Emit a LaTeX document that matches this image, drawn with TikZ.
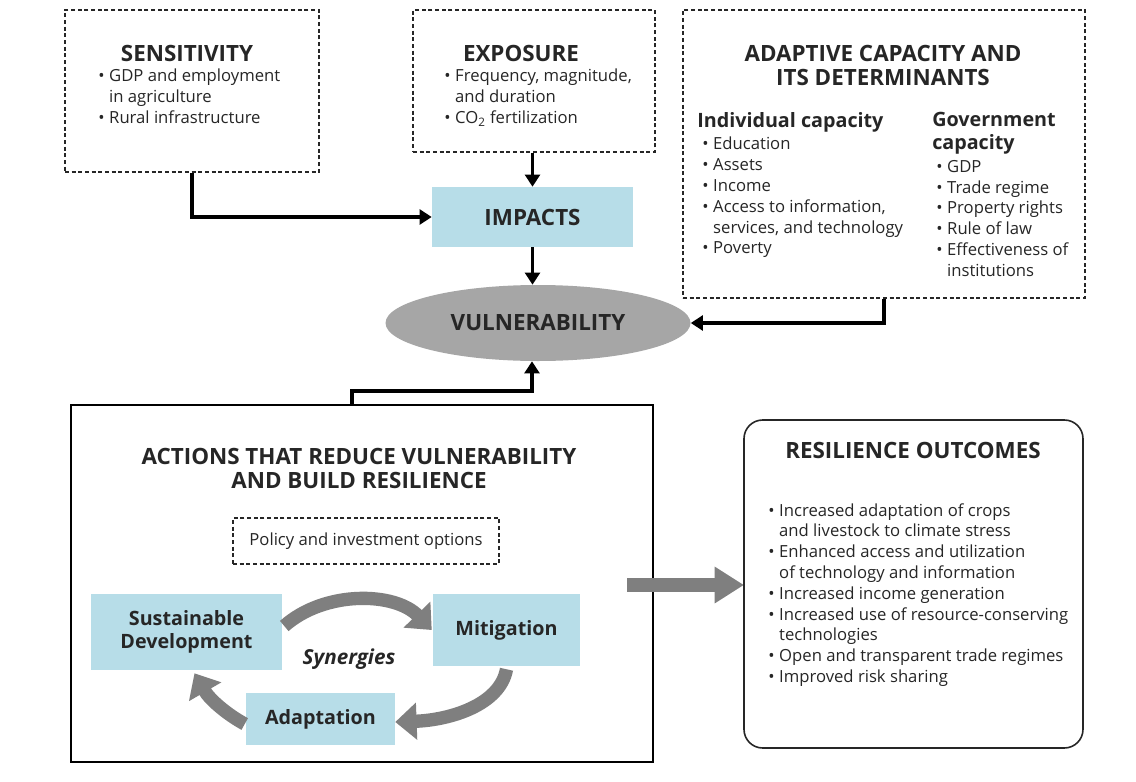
\documentclass[tikz,border=0pt]{standalone}
\usepackage{fontspec}
\setmainfont{Open Sans}
\usetikzlibrary{arrows.meta,shapes.geometric,calc,fit}
\definecolor{boxblue}{HTML}{B7DDE8}
\definecolor{ellgray}{HTML}{A6A6A6}
\definecolor{arrgray}{HTML}{7F7F7F}
\definecolor{ink}{HTML}{262626}
\newcommand{\bl}{\makebox[8.2pt][l]{\textbullet}}
\newcommand{\ind}{\hspace*{8.2pt}}
\begin{document}
\begin{tikzpicture}[x=0.75pt,y=-0.75pt,
  dbox/.style={draw=ink, line width=0.8pt, dash pattern=on 3pt off 2pt, inner sep=0pt},
  bluebox/.style={fill=boxblue, draw=none, inner sep=0pt},
  ttl/.style={font=\fontsize{16.8}{18}\selectfont\bfseries, text=ink, align=center, inner sep=0pt},
  sub/.style={font=\fontsize{14.8}{17}\selectfont\bfseries, text=ink, align=left, inner sep=0pt},
  lst/.style={font=\fontsize{12.5}{15.6}\selectfont, text=ink, align=left, inner sep=0pt, anchor=north west},
  inbox/.style={font=\fontsize{14.8}{17}\selectfont\bfseries, text=ink, align=center, inner sep=0pt},
  blk/.style={draw=black, line width=2.6pt, -{Triangle[length=9pt,width=11pt]}},
  garrow/.style={draw=arrgray, line width=10pt, -{Triangle[length=16pt,width=27pt]}}
]
\useasboundingbox (0,0) rectangle (1136,782);
\fill[white] (0,0) rectangle (1136,782);

% ---- top row: determinants of vulnerability
\node[dbox, fit={(65,10) (319,172)}] (sens) {};
\node[dbox, fit={(413,10) (655,152)}] (expo) {};
\node[dbox, fit={(683,10) (1085,298)}] (adap) {};

\node[ttl] (senst) at (187,53) {SENSITIVITY};
\node[lst] (sensl) at (98,69) {\bl GDP and employment\\\ind in agriculture\\\bl Rural infrastructure};

\node[ttl] (expot) at (521,53) {EXPOSURE};
\node[lst] (expol) at (444,69) {\bl Frequency, magnitude,\\\ind and duration\\\bl CO\textsubscript{2} fertilization};

\node[ttl] (adapt) at (883,65) {ADAPTIVE CAPACITY AND\\ITS DETERMINANTS};
\node[sub, anchor=west] (indt) at (697,122) {Individual capacity};
\node[lst] (indl) at (702,137) {\bl Education\\\bl Assets\\\bl Income\\\bl Access to information,\\\ind services, and technology\\\bl Poverty};
\node[sub, anchor=north west] (govt) at (932,112) {Government\\capacity};
\node[lst] (govl) at (936,160) {\bl GDP\\\bl Trade regime\\\bl Property rights\\\bl Rule of law\\\bl Effectiveness of\\\ind institutions};

% ---- impacts and vulnerability
\node[bluebox, fit={(432,187) (633,247)}] (imp) {};
\node[ttl] at (imp.center) {IMPACTS};
\node[ellipse, fill=ellgray, minimum width=305*0.75pt, minimum height=76*0.75pt, inner sep=0pt] (vul) at (538,323) {};
\node[ttl] at (vul.center) {VULNERABILITY};

% ---- actions block
\node[draw=black, line width=1.5pt, fit={(71,405) (653,762)}, inner sep=0pt] (act) {};
\node[ttl] (actt) at (359,468) {ACTIONS THAT REDUCE VULNERABILITY\\AND BUILD RESILIENCE};
\node[dbox, fit={(233,518) (499,564)}] (pol) {};
\node[font=\fontsize{12.5}{14}\selectfont, text=ink, inner sep=0pt] at (pol.center) {Policy and investment options};

\node[bluebox, fit={(91,594) (282,670)}] (sd) {};
\node[inbox] at (sd.center) {Sustainable\\Development};
\node[bluebox, fit={(433,594) (580,666)}] (mit) {};
\node[inbox] at (mit.center) {Mitigation};
\node[bluebox, fit={(246,693) (395,745)}] (ada) {};
\node[inbox] at (ada.center) {Adaptation};
\node[font=\fontsize{15.5}{16}\selectfont\bfseries\itshape, text=ink, inner sep=0pt] (syn) at (349,659) {Synergies};

% synergy cycle
\draw[garrow] ($(sd.east)+(2,-6)$) .. controls (325,590) and (395,592) .. ($(mit.west)+(-1,0)$);
\draw[garrow] ($(mit.south)+(0,3)$) .. controls (500,705) and (450,720) .. ($(ada.east)+(0,3)$);
\draw[garrow] ($(ada.west)+(-1,5)$) .. controls (228,715) and (210,700) .. ($(sd.south)+(8,3)$);

% ---- resilience outcomes
\draw[arrgray, line width=11pt, -{Triangle[length=22pt,width=26pt]}] (627,585) -- (744,585);
\node[draw=ink, line width=1.2pt, rounded corners=14pt, fit={(744,420) (1083,748)}, inner sep=0pt] (res) {};
\node[ttl] (rest) at (913,450) {RESILIENCE OUTCOMES};
\node[lst] (resl) at (768,503) {\bl Increased adaptation of crops\\\ind and livestock to climate stress\\\bl Enhanced access and utilization\\\ind of technology and information\\\bl Increased income generation\\\bl Increased use of resource-conserving\\\ind technologies\\\bl Open and transparent trade regimes\\\bl Improved risk sharing};

% ---- connectors
\draw[blk] (sens.south) |- (imp.west);
\draw[blk] (imp.north |- expo.south) -- (imp.north);
\draw[blk] (imp.south) -- (imp.south |- vul.north);
\draw[blk] (adap.south) |- (vul.east);
\draw[blk] ($(act.north)+(-10,0)$) -- ++(0,-13) -| ($(vul.south)+(-6,0)$);
\end{tikzpicture}
\end{document}
